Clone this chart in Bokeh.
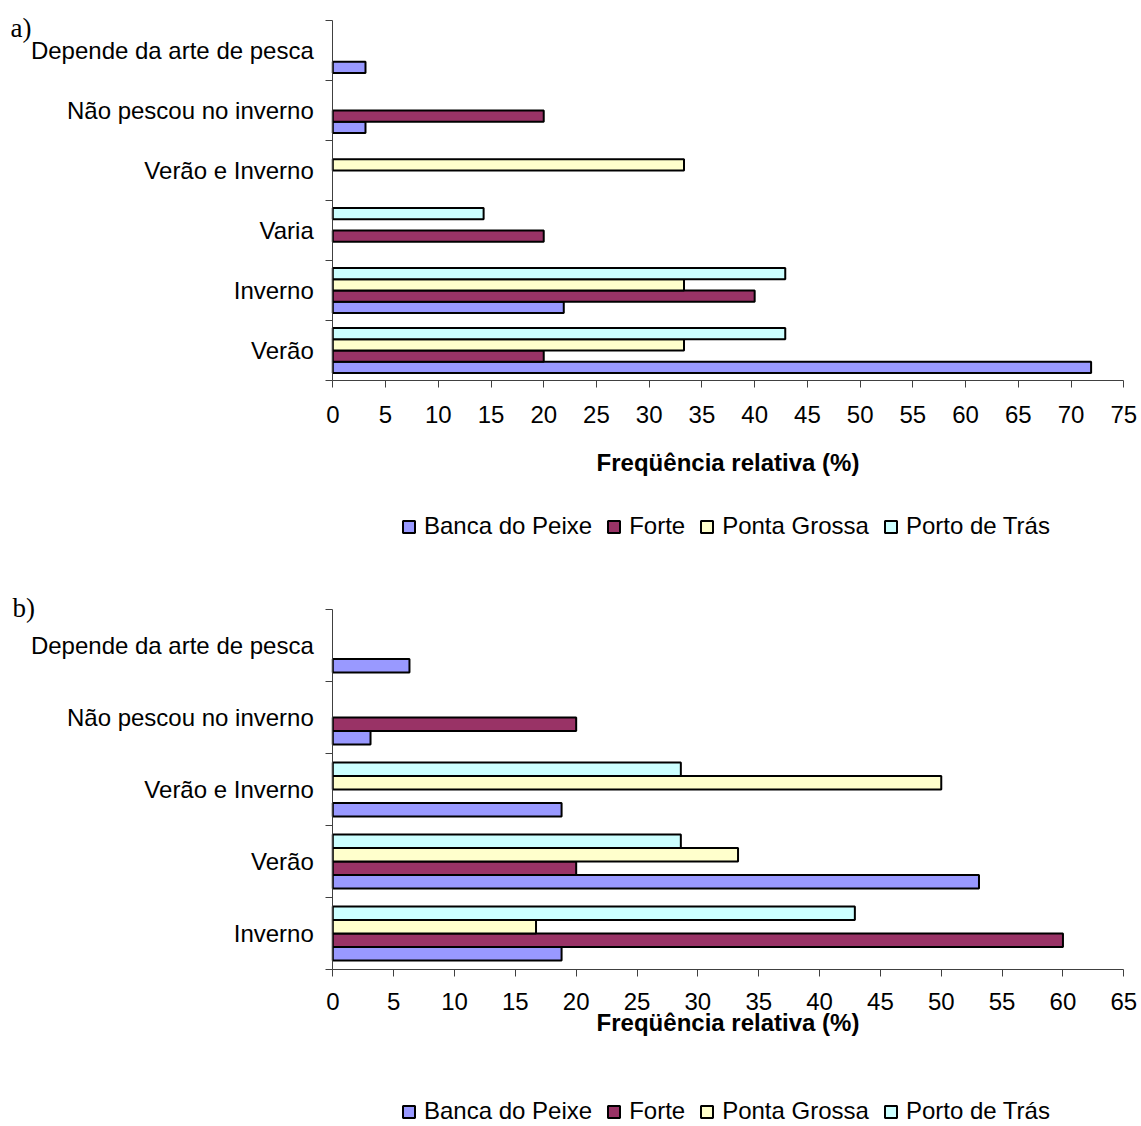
from bokeh.plotting import figure
from bokeh.models import (ColumnDataSource, FixedTicker, Legend, LegendItem,
                          Label, Range1d)
from bokeh.layouts import column
from bokeh.embed import file_html
from bokeh.resources import INLINE

# Fishing communities (series) and their bar colours
series = ["Banca do Peixe", "Forte", "Ponta Grossa", "Porto de Trás"]
colors = ["#9999FF", "#993366", "#FFFFCC", "#CCFFFF"]

# a) season categories, bottom to top, relative frequency (%)
cats_a = ["Verão", "Inverno", "Varia", "Verão e Inverno",
          "Não pescou no inverno", "Depende da arte de pesca"]
banca_a = [71.9, 21.9, 0, 0, 3.1, 3.1]
forte_a = [20, 40, 20, 0, 20, 0]
ponta_a = [33.3, 33.3, 0, 33.3, 0, 0]
porto_a = [42.9, 42.9, 14.3, 0, 0, 0]

# b) season categories, bottom to top, relative frequency (%)
cats_b = ["Inverno", "Verão", "Verão e Inverno",
          "Não pescou no inverno", "Depende da arte de pesca"]
banca_b = [18.8, 53.1, 18.8, 3.1, 6.3]
forte_b = [60, 20, 0, 20, 0]
ponta_b = [16.7, 33.3, 50, 0, 0]
porto_b = [42.9, 28.6, 28.6, 0, 0]

x_ticks_a = list(range(0, 76, 5))
x_ticks_b = list(range(0, 66, 5))

FONT = "Liberation Sans"
AXIS_COLOR = "#404040"
BAR_H = 0.1875
OFFSETS = [-0.28125, -0.09375, 0.09375, 0.28125]
WIDTH = 1141
AREA_LEFT, AREA_RIGHT = 332.3, 1123.3   # pixel extent of the value axis


def make_panel(cats, values, x_ticks, height, area_top, area_bottom,
               tick_standoff, title_standoff, legend_bottom, tag, tag_px):
    n = len(cats)
    xmax = x_ticks[-1]
    # ranges chosen so the drawing area sits at the given pixel box while the
    # frame covers the whole canvas (axes are pinned inside it)
    ppx = (AREA_RIGHT - AREA_LEFT) / xmax
    ppy = (area_bottom - area_top) / n
    x0 = -AREA_LEFT / ppx
    x1 = xmax + (WIDTH - AREA_RIGHT) / ppx
    y1 = n - 0.5 + area_top / ppy
    y0 = -0.5 - (height - area_bottom) / ppy

    p = figure(width=WIDTH, height=height, output_backend="svg",
               toolbar_location=None,
               x_range=Range1d(x0, x1), y_range=Range1d(y0, y1),
               min_border=0, min_border_left=0, min_border_right=0,
               min_border_top=0, min_border_bottom=0)
    p.outline_line_color = None
    p.xgrid.visible = False
    p.ygrid.visible = False
    p.background_fill_color = "white"
    p.border_fill_color = "white"

    renderers = []
    for j, (name, col, vals) in enumerate(zip(series, colors, values)):
        ys = [i + OFFSETS[j] for i, v in enumerate(vals) if v > 0]
        xs = [v for v in vals if v > 0]
        src = ColumnDataSource(dict(y=ys, right=xs))
        r = p.hbar(y="y", right="right", left=0, height=BAR_H, source=src,
                   fill_color=col, line_color="black", line_width=2)
        renderers.append(r)

    # value axis
    xa = p.xaxis[0]
    xa.fixed_location = -0.5
    xa.bounds = (0, xmax)
    xa.ticker = FixedTicker(ticks=x_ticks)
    xa.axis_line_color = AXIS_COLOR
    xa.major_tick_line_color = AXIS_COLOR
    xa.major_tick_out = 7
    xa.major_tick_in = 0
    xa.minor_tick_line_color = None
    xa.major_label_standoff = tick_standoff
    xa.major_label_text_font = FONT
    xa.major_label_text_font_size = "24px"
    xa.major_label_text_color = "black"
    xa.axis_label = "Freqüência relativa (%)"
    xa.axis_label_text_font = FONT
    xa.axis_label_text_font_size = "24px"
    xa.axis_label_text_font_style = "bold"
    xa.axis_label_text_color = "black"
    xa.axis_label_standoff = title_standoff

    # category axis: names at category centres, ticks at boundaries
    ya = p.yaxis[0]
    ya.fixed_location = 0
    ya.bounds = (-0.5, n - 0.5)
    ya.ticker = FixedTicker(ticks=list(range(n)),
                            minor_ticks=[i - 0.5 for i in range(n + 1)])
    ya.major_label_overrides = {i: c for i, c in enumerate(cats)}
    ya.axis_line_color = AXIS_COLOR
    ya.major_tick_out = 0
    ya.major_tick_in = 0
    ya.minor_tick_line_color = AXIS_COLOR
    ya.minor_tick_out = 7
    ya.minor_tick_in = 0
    ya.major_label_standoff = 12
    ya.major_label_text_font = FONT
    ya.major_label_text_font_size = "24px"
    ya.major_label_text_color = "black"

    legend = Legend(
        items=[LegendItem(label=s, renderers=[r])
               for s, r in zip(series, renderers)],
        orientation="horizontal", location=(401, legend_bottom),
        glyph_width=15, glyph_height=15, label_standoff=8, spacing=14,
        padding=0, margin=0, border_line_alpha=0, background_fill_alpha=0,
        label_text_font=FONT, label_text_font_size="24px",
        label_text_color="black")
    p.add_layout(legend, "center")

    tx = (tag_px[0] - AREA_LEFT) / ppx
    ty = n - 0.5 + (area_top - tag_px[1]) / ppy
    p.add_layout(Label(x=tx, y=ty, text=tag,
                       text_font="Liberation Serif", text_font_size="27px",
                       text_color="black", text_baseline="alphabetic"))
    return p


pa = make_panel(cats_a, [banca_a, forte_a, ponta_a, porto_a], x_ticks_a,
                height=590, area_top=20, area_bottom=380,
                tick_standoff=18, title_standoff=23, legend_bottom=50,
                tag="a)", tag_px=(10, 27))
pb = make_panel(cats_b, [banca_b, forte_b, ponta_b, porto_b], x_ticks_b,
                height=536, area_top=19, area_bottom=379,
                tick_standoff=16, title_standoff=-4, legend_bottom=1,
                tag="b)", tag_px=(12, 17))

layout = column(pa, pb)
open("out.html", "w").write(file_html(layout, INLINE))
